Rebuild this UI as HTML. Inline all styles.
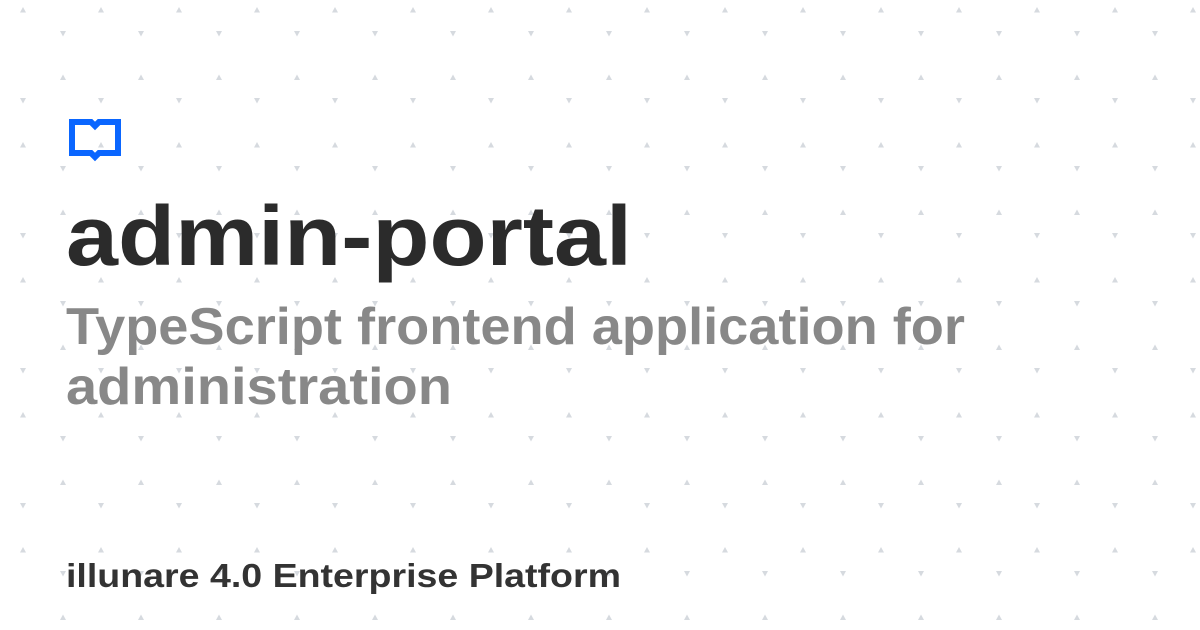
<!DOCTYPE html>
<html><head><meta charset="utf-8"><style>
html,body{margin:0;padding:0;background:#fff;}
svg{display:block}
</style></head><body>
<svg width="1200" height="630" viewBox="0 0 1200 630" xmlns="http://www.w3.org/2000/svg">
<defs>
<pattern id="p" x="0" y="0" width="78" height="135" patternUnits="userSpaceOnUse">
<path d="M20 12.5 L23 7 L26 12.5 Z" fill="#d6dadf"/>
<path d="M60 31 L66 31 L63 36.5 Z" fill="#d6dadf"/>
<path d="M60 80 L63 74.5 L66 80 Z" fill="#d6dadf"/>
<path d="M20 98 L26 98 L23 103.5 Z" fill="#d6dadf"/>
</pattern>
</defs>
<rect x="0" y="0" width="1200" height="630" fill="#fff"/>
<rect x="0" y="0" width="1200" height="630" fill="url(#p)"/>
<path d="M72 122 H91 L95 126 L99 122 H118 V153 H99 L95 157 L91 153 H72 Z" fill="none" stroke="#0a66ff" stroke-width="6" stroke-linejoin="miter"/>
<g font-family="Liberation Sans, sans-serif" font-weight="bold">
<text x="66" y="265" font-size="84" fill="#2b2b2b" textLength="566" lengthAdjust="spacingAndGlyphs">admin-portal</text>
<text x="66" y="344" font-size="52" fill="#888888" textLength="899" lengthAdjust="spacingAndGlyphs">TypeScript frontend application for</text>
<text x="66" y="404" font-size="52" fill="#888888" textLength="386" lengthAdjust="spacingAndGlyphs">administration</text>
<text x="66" y="587" font-size="33" fill="#333333" textLength="555" lengthAdjust="spacingAndGlyphs">illunare 4.0 Enterprise Platform</text>
</g>
</svg>
</body></html>
